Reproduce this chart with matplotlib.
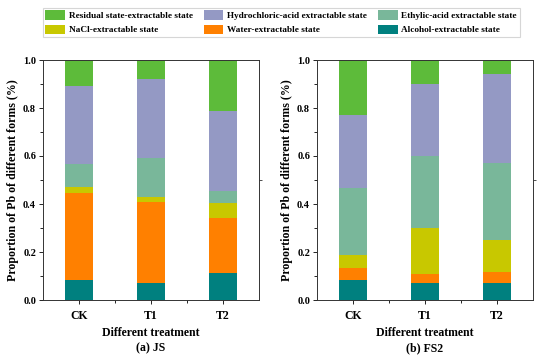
import numpy as np
import matplotlib.pyplot as plt

plt.rcParams['font.family'] = ['Liberation Serif', 'DejaVu Serif']
plt.rcParams['font.weight'] = 'bold'

treatments = ['CK', 'T1', 'T2']
forms = ['Alcohol-extractable state', 'Water-extractable state', 'NaCl-extractable state',
         'Ethylic-acid extractable state', 'Hydrochloric-acid extractable state',
         'Residual state-extractable state']
colors = ['#00807f', '#ff8000', '#c8c800', '#79b79a', '#9499c4', '#5dbb3a']

# proportions, bottom form first
js_alcohol = [0.083, 0.069, 0.111]
js_water = [0.361, 0.341, 0.232]
js_nacl = [0.028, 0.020, 0.060]
js_ethylic = [0.095, 0.160, 0.051]
js_hcl = [0.325, 0.330, 0.335]
js_residual = [0.108, 0.080, 0.211]

fs_alcohol = [0.083, 0.069, 0.069]
fs_water = [0.052, 0.041, 0.049]
fs_nacl = [0.053, 0.191, 0.132]
fs_ethylic = [0.280, 0.299, 0.319]
fs_hcl = [0.303, 0.300, 0.373]
fs_residual = [0.229, 0.100, 0.058]

js = [js_alcohol, js_water, js_nacl, js_ethylic, js_hcl, js_residual]
fs = [fs_alcohol, fs_water, fs_nacl, fs_ethylic, fs_hcl, fs_residual]

fig = plt.figure(figsize=(5.5, 3.56), dpi=100)
ax1 = fig.add_axes([43/550, 56/356, 216/550, 240/356])
ax2 = fig.add_axes([317/550, 56/356, 216/550, 240/356])

x = np.arange(1, 4)
bars = []
for ax, data, sub in [(ax1, js, '(a) JS'), (ax2, fs, '(b) FS2')]:
    bottom = np.zeros(3)
    handles = []
    for vals, c, name in zip(data, colors, forms):
        b = ax.bar(x, vals, 0.4, bottom=bottom, color=c, label=name)
        bottom += np.array(vals)
        handles.append(b)
    bars = handles
    ax.set_xlim(0.5, 3.5)
    ax.set_ylim(0, 1.0)
    ax.set_xticks(x)
    ax.set_xticklabels(treatments, fontsize=8.5, fontweight='bold')
    ax.set_xticks([1.5, 2.5], minor=True)
    ax.set_yticks(np.arange(0, 1.01, 0.2))
    ax.set_yticklabels(['%.1f' % v for v in np.arange(0, 1.01, 0.2)], fontsize=7.5)
    ax.set_yticks([0.1, 0.3, 0.5, 0.7, 0.9], minor=True)
    ax.tick_params(axis='both', which='major', length=3, width=0.6, direction='out', pad=2)
    ax.tick_params(axis='both', which='minor', length=2, width=0.6, direction='out')
    ax.tick_params(axis='x', which='major', pad=4)
    ax.set_xlabel('Different treatment\n' + sub, fontsize=8.5, fontweight='bold',
                  labelpad=4, linespacing=1.3)
    ax.set_ylabel('Proportion of Pb of different forms (%)', fontsize=8.6,
                  fontweight='bold', labelpad=3)
    # single tick on the right spine
    right = ax.secondary_yaxis('right')
    right.set_yticks([0.5])
    right.set_yticklabels([])
    right.tick_params(length=2, width=0.6, direction='out', color='#333333')
    right.spines['right'].set_visible(False)
    for s in ax.spines.values():
        s.set_linewidth(0.7)
        s.set_color('#333333')

# legend order: row-wise in reference
order = [5, 2, 4, 1, 3, 0]
leg = fig.legend([bars[i] for i in order], [forms[i] for i in order],
                 loc='upper left', bbox_to_anchor=(38/550, 1 - 3/356), ncol=3,
                 fontsize=6.7, frameon=True, fancybox=False, edgecolor='#cccccc',
                 handlelength=2.1, handleheight=1.2, columnspacing=1.2,
                 labelspacing=0.45, borderpad=0.3, handletextpad=0.4)
leg.get_frame().set_linewidth(0.8)

fig.savefig('out.png', dpi=100)
